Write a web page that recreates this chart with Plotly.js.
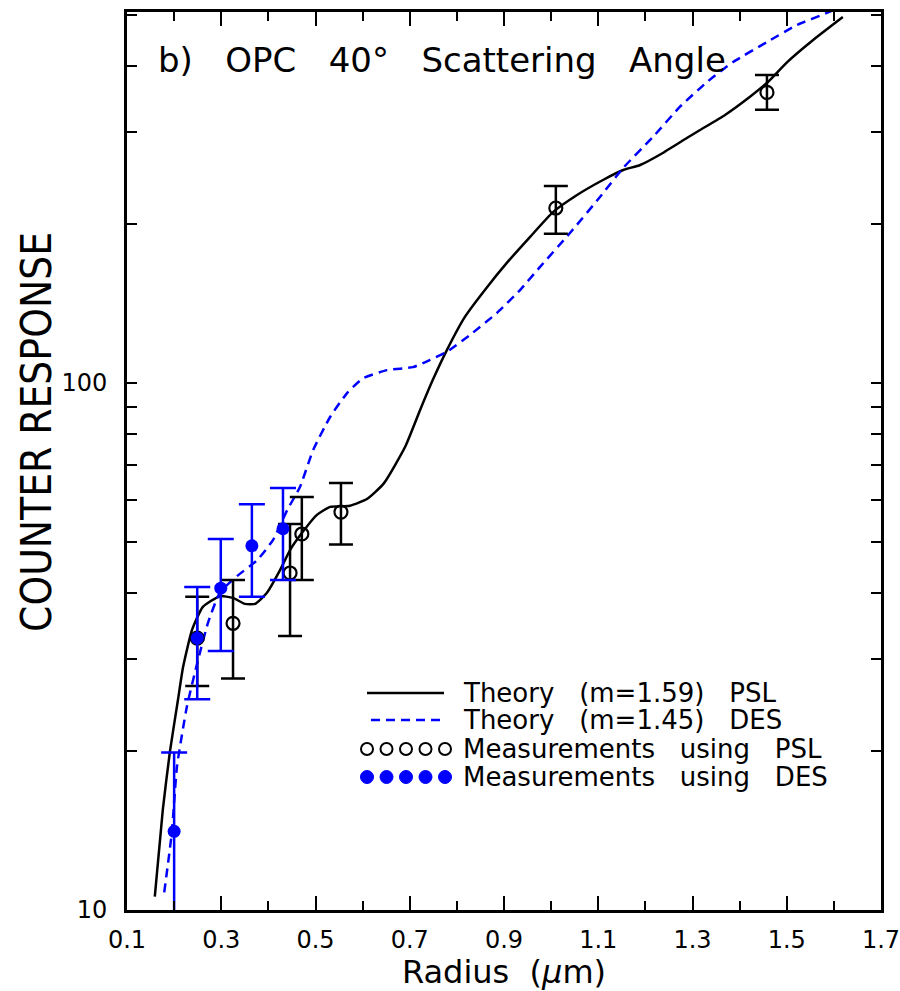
<!DOCTYPE html>
<html>
<head>
<meta charset="utf-8">
<script src="https://cdn.plot.ly/plotly-3.0.1.min.js"></script>
<style>html,body{margin:0;padding:0;background:#fff;}</style>
</head>
<body>
<div id="chart" style="width:900px;height:991px;"></div>
<script>
// Theory curve, m=1.59 (PSL)
const psl_theory_r = [0.159,0.176,0.191,0.208,0.219,0.238,0.261,0.297,0.325,0.350,0.372,0.397,0.425,0.446,0.471,0.503,0.531,0.573,0.610,0.645,0.690,0.722,0.749,0.779,0.817,0.864,0.906,0.955,1.004,1.055,1.110,1.153,1.189,1.237,1.288,1.316,1.369,1.422,1.460,1.501,1.556,1.619];
const psl_theory_v = [10.6,15.5,19.95,25.0,28.9,34.0,37.6,39.4,39.1,38.1,38.1,40.0,44.2,48.2,51.9,56.2,58.2,58.5,60.3,64.5,75.6,88.9,101.4,115.6,133.5,152,169,189.2,211,227.4,242.8,253.6,259.2,273.2,291.6,302,322.6,349.3,372.6,406.4,447.6,494.8];
// Theory curve, m=1.45 (DES)
const des_theory_r = [0.179,0.195,0.206,0.227,0.249,0.272,0.297,0.329,0.376,0.410,0.440,0.467,0.495,0.531,0.567,0.601,0.652,0.707,0.743,0.779,0.828,0.885,0.934,0.976,1.040,1.104,1.153,1.216,1.273,1.331,1.386,1.458,1.522,1.585,1.650];
const des_theory_v = [10.8,14.0,18.7,24.3,29.4,35.1,40.0,42.7,46.1,50.4,57.4,63.5,74.6,86.2,95.7,102.1,105.8,107.2,110.6,114.6,123.4,135.8,150.1,165.9,192.6,225.6,256,293,334,372.6,406.4,443.6,478,503.7,535];
// Measurements using PSL
const psl_meas_r = [0.249,0.325,0.446,0.471,0.554,1.010,1.458];
const psl_meas_v = [32.8,35.0,43.6,51.7,56.9,214.8,356];
const psl_meas_hi = [39.3,42.3,54.0,60.8,64.6,236.6,384];
const psl_meas_lo = [26.6,27.5,33.1,42.3,49.4,191.9,330];
// Measurements using DES
const des_meas_r = [0.200,0.249,0.299,0.365,0.431];
const des_meas_v = [14.1,32.8,40.8,49.1,52.9];
const des_meas_hi = [19.9,41.0,50.6,58.9,63.2];
const des_meas_lo = [5,25.1,31.0,39.3,42.3];
// Axis ticks
const x_tickvals = [0.1,0.3,0.5,0.7,0.9,1.1,1.3,1.5,1.7];
const x_ticktext = ['0.1','0.3','0.5','0.7','0.9','1.1','1.3','1.5','1.7'];
const y_tickvals = [10,20,30,40,50,60,70,80,90,100,200,300,400,500];
const y_ticktext = ['10','','','','','','','','','100','','','',''];

const BLUE = '#0000ff';
const F = '"DejaVu Sans", "Liberation Sans", sans-serif';
const L = 127, R = 881, T = 12, B = 910;
const px = v => (v - L) / (R - L);
const py = v => (B - v) / (B - T);

const diff = (a, b) => a.map((x, i) => x - b[i]);

const traces = [
  {x: psl_theory_r, y: psl_theory_v, mode: 'lines', line: {color: '#000', width: 2.5, shape: 'spline', smoothing: 0.5}, hoverinfo: 'skip'},
  {x: des_theory_r, y: des_theory_v, mode: 'lines', line: {color: BLUE, width: 2.5, dash: '9px,6px', shape: 'spline', smoothing: 0.5}, hoverinfo: 'skip'},
  {x: psl_meas_r, y: psl_meas_v, mode: 'markers', marker: {symbol: 'circle-open', size: 13, color: '#000', line: {width: 2.2, color: '#000'}},
   error_y: {type: 'data', symmetric: false, array: diff(psl_meas_hi, psl_meas_v), arrayminus: diff(psl_meas_v, psl_meas_lo), color: '#000', thickness: 2.5, width: 12}},
  {x: des_meas_r, y: des_meas_v, mode: 'markers', marker: {symbol: 'circle', size: 13, color: BLUE},
   error_y: {type: 'data', symmetric: false, array: diff(des_meas_hi, des_meas_v), arrayminus: diff(des_meas_v, des_meas_lo), color: BLUE, thickness: 2.5, width: 13}}
];

const shapes = [
  {type: 'line', xref: 'paper', yref: 'paper', x0: px(367), x1: px(444), y0: py(693), y1: py(693), line: {color: '#000', width: 2.5}},
  {type: 'line', xref: 'paper', yref: 'paper', x0: px(371), x1: px(444), y0: py(720), y1: py(720), line: {color: BLUE, width: 2.5, dash: '9px,6px'}}
];
[367, 386.5, 406, 425.5, 445].forEach(cx => {
  shapes.push({type: 'circle', xref: 'paper', yref: 'paper', xsizemode: 'pixel', ysizemode: 'pixel',
    xanchor: px(cx), yanchor: py(749), x0: -6, x1: 6, y0: -6, y1: 6, line: {color: '#000', width: 2}});
  shapes.push({type: 'circle', xref: 'paper', yref: 'paper', xsizemode: 'pixel', ysizemode: 'pixel',
    xanchor: px(cx), yanchor: py(777), x0: -6.5, x1: 6.5, y0: -6.5, y1: 6.5, fillcolor: BLUE, line: {color: BLUE, width: 1}});
});

const sp = '\u00A0\u00A0\u00A0';
const legTxt = ['Theory' + sp + '(m=1.59)' + sp + 'PSL', 'Theory' + sp + '(m=1.45)' + sp + 'DES',
  'Measurements' + sp + 'using' + sp + 'PSL', 'Measurements' + sp + 'using' + sp + 'DES'];
const legY = [693, 720, 749, 777];
const annotations = legTxt.map((t, i) => ({
  text: t, xref: 'paper', yref: 'paper', x: px(461), y: py(legY[i]), xanchor: 'left', yanchor: 'middle',
  showarrow: false, font: {family: F, size: 26, color: '#000'}
}));
annotations.push({
  text: 'b)' + sp + 'OPC' + sp + '40°' + sp + 'Scattering' + sp + 'Angle', xref: 'paper', yref: 'paper',
  x: px(156), y: py(60), xanchor: 'left', yanchor: 'middle', showarrow: false,
  font: {family: F, size: 34, color: '#000'}
});
// y-axis title (placed as annotation to match vertical offset of the original)
annotations.push({
  text: 'COUNTER RESPONSE', xref: 'paper', yref: 'paper', x: px(36), y: py(432),
  xanchor: 'center', yanchor: 'middle', textangle: -90, showarrow: false,
  font: {family: '"Liberation Sans Narrow", "DejaVu Sans Condensed", sans-serif', size: 42, color: '#000'}
});

const layout = {
  width: 900, height: 991,
  margin: {l: L, r: 900 - R, t: T, b: 991 - B, pad: 0},
  paper_bgcolor: '#fff', plot_bgcolor: '#fff',
  showlegend: false,
  font: {family: F, color: '#000'},
  xaxis: {
    range: [0.1, 1.7], tickmode: 'array', tickvals: x_tickvals, ticktext: x_ticktext,
    ticks: 'inside', ticklen: 14, tickwidth: 2, tickcolor: '#000',
    minor: {tick0: 0.1, dtick: 0.1, ticks: 'inside', ticklen: 9, tickwidth: 2, tickcolor: '#000', showgrid: false},
    showline: true, linewidth: 3, linecolor: '#000', mirror: 'ticks',
    showgrid: false, zeroline: false, ticklabelstandoff: 6, ticklabeloverflow: 'allow',
    tickfont: {family: F, size: 24, color: '#000'},
    title: {text: 'Radius\u00A0\u00A0(<i>μ</i>m)', font: {family: F, size: 32, color: '#000'}, standoff: 2}
  },
  yaxis: {
    type: 'log', range: [1, 2.704], tickmode: 'array', tickvals: y_tickvals, ticktext: y_ticktext,
    ticks: 'inside', ticklen: 10, tickwidth: 2, tickcolor: '#000',
    showline: true, linewidth: 3, linecolor: '#000', mirror: 'ticks',
    showgrid: false, zeroline: false, ticklabelstandoff: 12, ticklabeloverflow: 'allow',
    tickfont: {family: F, size: 24, color: '#000'}
  },
  shapes: shapes,
  annotations: annotations
};

Plotly.newPlot('chart', traces, layout, {displayModeBar: false, staticPlot: true});
</script>
</body>
</html>
